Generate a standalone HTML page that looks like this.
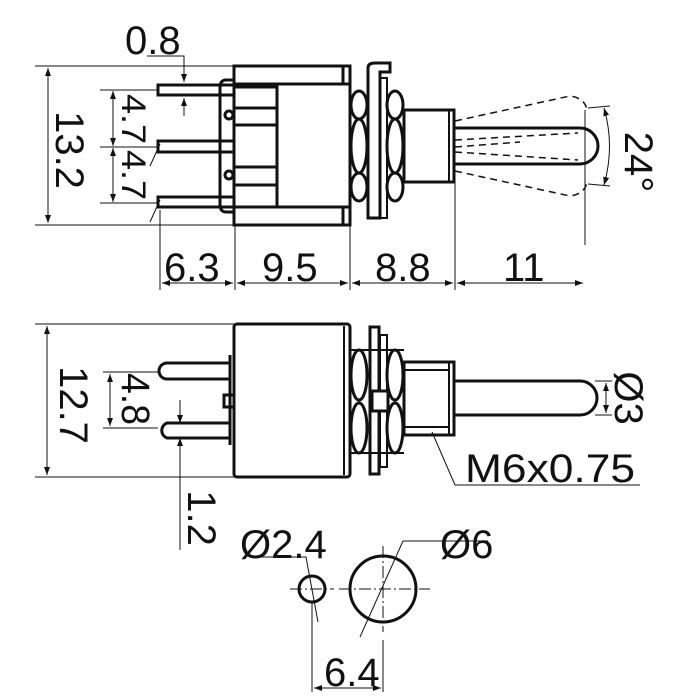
<!DOCTYPE html>
<html><head><meta charset="utf-8"><style>
html,body{margin:0;padding:0;background:#fff;}
svg{display:block}
text{font-family:"Liberation Sans",sans-serif;fill:#111;}
</style></head><body>
<svg width="700" height="700" viewBox="0 0 700 700" xmlns="http://www.w3.org/2000/svg">
<defs>
<marker id="a" markerWidth="8" markerHeight="6" refX="8" refY="3" orient="auto-start-reverse" markerUnits="userSpaceOnUse"><path d="M0,0 L8,3 L0,6 z" fill="#111"/></marker>
</defs>
<g fill="none" stroke="#111">
<g stroke-width="3">
<rect x="234" y="66" width="116" height="159"/>
<line x1="234" y1="84" x2="350" y2="84"/>
<line x1="234" y1="207" x2="350" y2="207"/>
<line x1="343" y1="66" x2="343" y2="84"/>
<line x1="343" y1="207" x2="343" y2="225"/>
<path d="M234,87 H277 V108 H234 M234,125 H277 V167 H234 M234,185 H277 V207"/>
<line x1="277" y1="84" x2="277" y2="207"/>
<path d="M234,80 H226 Q220,80 220,88 V204 Q220,212 226,212 H234"/>
<rect x="158" y="85" width="76" height="10"/>
<rect x="158" y="141" width="76" height="11"/>
<rect x="158" y="197" width="76" height="10"/>
<circle cx="229" cy="115" r="4"/>
<circle cx="229" cy="175" r="4"/>
<ellipse cx="359" cy="105" rx="8" ry="14"/>
<ellipse cx="359" cy="146" rx="8" ry="27"/>
<ellipse cx="359" cy="187" rx="8" ry="14"/>
<ellipse cx="395" cy="105" rx="8" ry="14"/>
<ellipse cx="395" cy="146" rx="8" ry="27"/>
<ellipse cx="395" cy="187" rx="8" ry="14"/>
<path d="M368,218 V68 Q368,63 375,63 H390 V72 H380 V218 Z"/>
<rect x="380" y="78" width="7" height="140" stroke-width="2"/>
<rect x="404" y="110" width="50" height="72"/>
<line x1="449" y1="110" x2="449" y2="182" stroke-width="2"/>
<path d="M455,128 H580 A18,18 0 0 1 580,164 H455"/>
</g>
<g stroke-width="1.5" stroke-dasharray="7,5">
<path d="M455,121 L570,96 Q585,98 587,110"/>
<path d="M455,171 L570,196 Q585,194 587,182"/>
<path d="M455,140 L578,133"/>
<path d="M455,152 L578,160"/>
<path d="M455,147 L520,142"/>
</g>
<g stroke-width="1">
<line x1="585" y1="110" x2="585" y2="245"/>
<line x1="588" y1="108" x2="610" y2="106"/>
<line x1="588" y1="184" x2="610" y2="186"/>
<path d="M604,108 Q615,146 604,185" marker-start="url(#a)" marker-end="url(#a)"/>
<line x1="35" y1="66" x2="234" y2="66"/>
<line x1="35" y1="225" x2="234" y2="225"/>
<line x1="48" y1="68" x2="48" y2="223" marker-start="url(#a)" marker-end="url(#a)"/>
<line x1="100" y1="90" x2="158" y2="90"/>
<line x1="100" y1="147" x2="158" y2="147"/>
<line x1="100" y1="203" x2="158" y2="203"/>
<line x1="113" y1="91" x2="113" y2="146" marker-start="url(#a)" marker-end="url(#a)"/>
<line x1="113" y1="148" x2="113" y2="202" marker-start="url(#a)" marker-end="url(#a)"/>
<path d="M147,56 H184 V82" marker-end="url(#a)"/>
<line x1="184" y1="116" x2="184" y2="98" marker-end="url(#a)"/>
<path d="M160,200 L150,222 M160,144 L150,166"/>
<line x1="160" y1="210" x2="160" y2="290"/>
<line x1="235" y1="226" x2="235" y2="290"/>
<line x1="350" y1="226" x2="350" y2="290"/>
<line x1="455" y1="182" x2="455" y2="290"/>
<line x1="162" y1="283" x2="233" y2="283" marker-start="url(#a)" marker-end="url(#a)"/>
<line x1="237" y1="283" x2="348" y2="283" marker-start="url(#a)" marker-end="url(#a)"/>
<line x1="352" y1="283" x2="453" y2="283" marker-start="url(#a)" marker-end="url(#a)"/>
<line x1="457" y1="283" x2="583" y2="283" marker-start="url(#a)" marker-end="url(#a)"/>
</g>
<g stroke-width="3">
<rect x="234" y="324" width="116" height="153" rx="3"/>
<line x1="344" y1="326" x2="344" y2="475" stroke-width="2"/>
<path d="M230,363 H167 A8,8 0 0 0 167,379 H230"/>
<path d="M230,423 H167 A8,8 0 0 0 167,438 H230"/>
<line x1="230" y1="355" x2="230" y2="445"/>
<rect x="224" y="395" width="10" height="12"/>
<ellipse cx="359" cy="375" rx="8" ry="25"/>
<ellipse cx="359" cy="428" rx="8" ry="25"/>
<ellipse cx="395" cy="375" rx="8" ry="25"/>
<ellipse cx="395" cy="428" rx="8" ry="25"/>
<line x1="350" y1="350" x2="404" y2="350" stroke-width="2"/>
<line x1="350" y1="453" x2="404" y2="453" stroke-width="2"/>
<rect x="370" y="327" width="9" height="147"/>
<rect x="380" y="335" width="7" height="132" stroke-width="2"/>
<rect x="372" y="391" width="16" height="20" fill="#fff"/>
<rect x="404" y="362" width="50" height="73"/>
<line x1="449" y1="362" x2="449" y2="435" stroke-width="2"/>
<line x1="404" y1="370" x2="449" y2="370" stroke-width="2"/>
<line x1="404" y1="427" x2="449" y2="427" stroke-width="2"/>
<path d="M455,381 H580 A17,17 0 0 1 580,415 H455"/>
</g>
<g stroke-width="1">
<line x1="35" y1="324" x2="234" y2="324"/>
<line x1="35" y1="477" x2="234" y2="477"/>
<line x1="47" y1="326" x2="47" y2="475" marker-start="url(#a)" marker-end="url(#a)"/>
<line x1="103" y1="372" x2="158" y2="372"/>
<line x1="103" y1="428" x2="158" y2="428"/>
<line x1="110" y1="374" x2="110" y2="426" marker-start="url(#a)" marker-end="url(#a)"/>
<line x1="180" y1="400" x2="180" y2="423" marker-end="url(#a)"/>
<line x1="180" y1="550" x2="180" y2="438" marker-end="url(#a)"/>
<line x1="595" y1="381" x2="612" y2="381"/>
<line x1="595" y1="415" x2="612" y2="415"/>
<line x1="606" y1="383" x2="606" y2="413" marker-start="url(#a)" marker-end="url(#a)"/>
<path d="M432,432 L455,485 H640"/>
</g>
<g stroke-width="3">
<circle cx="312" cy="589" r="13"/>
<circle cx="383" cy="589" r="33"/>
</g>
<g stroke-width="1">
<path d="M290,589 H334 M339,589 H430" stroke-dasharray="12,3,2,3"/>
<path d="M383,546 V632" stroke-dasharray="12,3,2,3"/>
<path d="M253,557 H306 L318,622"/>
<path d="M488,541 H403 L360,637"/>
<line x1="312" y1="602" x2="312" y2="692"/>
<line x1="383" y1="640" x2="383" y2="692"/>
<line x1="314" y1="688" x2="381" y2="688" marker-start="url(#a)" marker-end="url(#a)"/>
</g>
</g>
<g font-size="40">
<text x="125" y="54">0.8</text>
<text x="164" y="281">6.3</text>
<text x="262" y="281">9.5</text>
<text x="375" y="281">8.8</text>
<text x="503" y="281">11</text>
<text transform="translate(56,150) rotate(90)" text-anchor="middle">13.2</text>
<text transform="translate(122,94) rotate(90)" font-size="34" textLength="50" lengthAdjust="spacingAndGlyphs">4.7</text>
<text transform="translate(122,150) rotate(90)" font-size="34" textLength="50" lengthAdjust="spacingAndGlyphs">4.7</text>
<text transform="translate(625,162) rotate(90)" text-anchor="middle">24°</text>
<text transform="translate(60,405) rotate(90)" text-anchor="middle">12.7</text>
<text transform="translate(122,373) rotate(90)" textLength="52" lengthAdjust="spacingAndGlyphs">4.8</text>
<text transform="translate(188,518) rotate(90)" text-anchor="middle">1.2</text>
<text transform="translate(615,398) rotate(90)" text-anchor="middle">Ø3</text>
<text x="465" y="482" textLength="170" lengthAdjust="spacingAndGlyphs">M6x0.75</text>
<text x="240" y="558">Ø2.4</text>
<text x="440" y="558">Ø6</text>
<text x="324" y="686">6.4</text>
</g>
</svg>
</body></html>
